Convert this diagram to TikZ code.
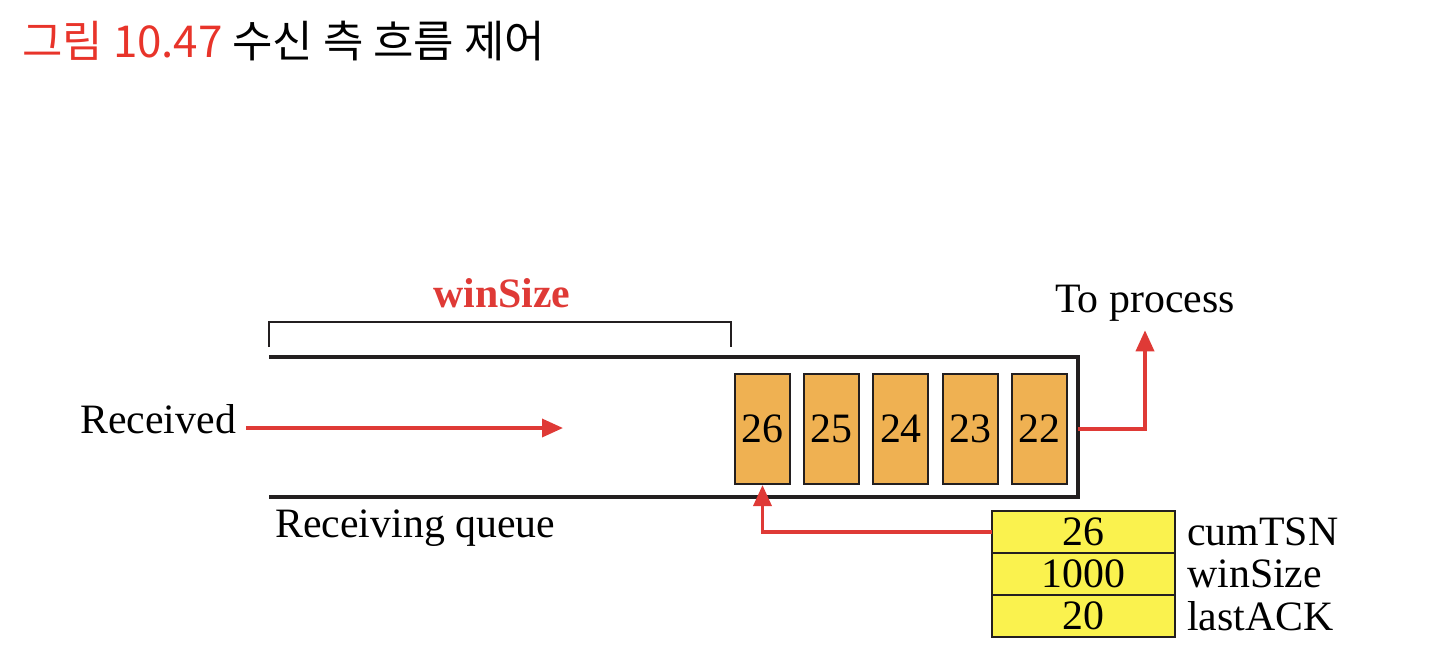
\documentclass[tikz,border=0pt]{standalone}
\usepackage{fontspec}
\setmainfont{Liberation Serif}
\newfontfamily\krfont{Noto Sans CJK KR}
\usepackage{xcolor}
\definecolor{flowRed}{HTML}{DF3A36}
\definecolor{titleRed}{HTML}{E8342A}
\definecolor{chunkFill}{HTML}{EFB152}
\definecolor{varFill}{HTML}{FAF24E}
\definecolor{lineDark}{HTML}{231F20}
\usepackage{tikz}
\usetikzlibrary{arrows.meta,positioning,calc}
\newcommand\diagfont{\fontsize{23.8}{28}\selectfont}
\tikzset{
    chunk/.style={
        draw=lineDark,
        fill=chunkFill,
        rectangle,
        line width=1.2pt,
        minimum width=1.1cm,
        minimum height=2.2cm,
        inner sep=0pt,
        font=\diagfont
    },
    varcell/.style={
        draw=lineDark,
        fill=varFill,
        rectangle,
        line width=1.2pt,
        minimum width=3.66cm,
        minimum height=0.84cm,
        inner sep=0pt,
        outer sep=0pt,
        font=\diagfont
    },
    tag/.style={
        inner sep=0pt,
        font=\diagfont
    },
    flow/.style={
        -{Triangle[length=0.42cm,width=0.36cm]},
        line width=2pt,
        color=flowRed
    },
    queue/.style={
        line width=2pt,
        color=lineDark
    }
}

\begin{document}
\begin{tikzpicture}[x=0.02cm,y=-0.02cm]
    \useasboundingbox (0,0) rectangle (1434,660);
    \node[anchor=base west, inner sep=0pt, font=\krfont\fontsize{25}{29}\selectfont] (title) at (22,57) {\textcolor{titleRed}{그림 10.47} 수신 측 흐름 제어};

    % receiving queue
    \coordinate (qtl) at (269,357);
    \coordinate (qtr) at (1078,357);
    \coordinate (qbr) at (1078,497);
    \coordinate (qbl) at (269,497);
    \draw[queue] (qtl) -- (qtr) -- (qbr) -- (qbl);
    \node[tag, anchor=base west] (qlabel) at (275,537) {Receiving queue};

    \foreach \n [count=\i from 0] in {26,25,24,23,22}
        \node[chunk] (c\n) at (762.5+69.2*\i,429) {\n};

    % window bracket
    \coordinate (bl) at (269,347);
    \coordinate (br) at (731,347);
    \draw[line width=1.5pt, lineDark] (bl) -- ++(0,-25) -| (br);
    \node[tag, anchor=base, text=flowRed] (wlabel) at (502,307) {\textbf{winSize}};

    \node[tag, anchor=base west] (recv) at (80,433) {Received};
    \coordinate (recvEnd) at (563,428);
    \draw[flow] ($(recv.east |- recvEnd)+(10,0)$) -- (recvEnd);

    \node[tag, anchor=base] (proc) at (1145,312) {To process};
    \draw[flow] (qtr |- c22.east) -| ([yshift=-0.18cm]proc.south);

    % variables
    \node[varcell] (vTSN) at (1083.5,532) {26};
    \node[varcell, below=0pt of vTSN] (vWin) {1000};
    \node[varcell, below=0pt of vWin] (vAck) {20};
    \node[tag, right=0.24cm of vTSN] (lTSN) {cumTSN};
    \node[tag, right=0.24cm of vWin] (lWin) {winSize};
    \node[tag, right=0.24cm of vAck] (lAck) {lastACK};
    \draw[flow] (vTSN.west) -| (c26.south);
\end{tikzpicture}
\end{document}
